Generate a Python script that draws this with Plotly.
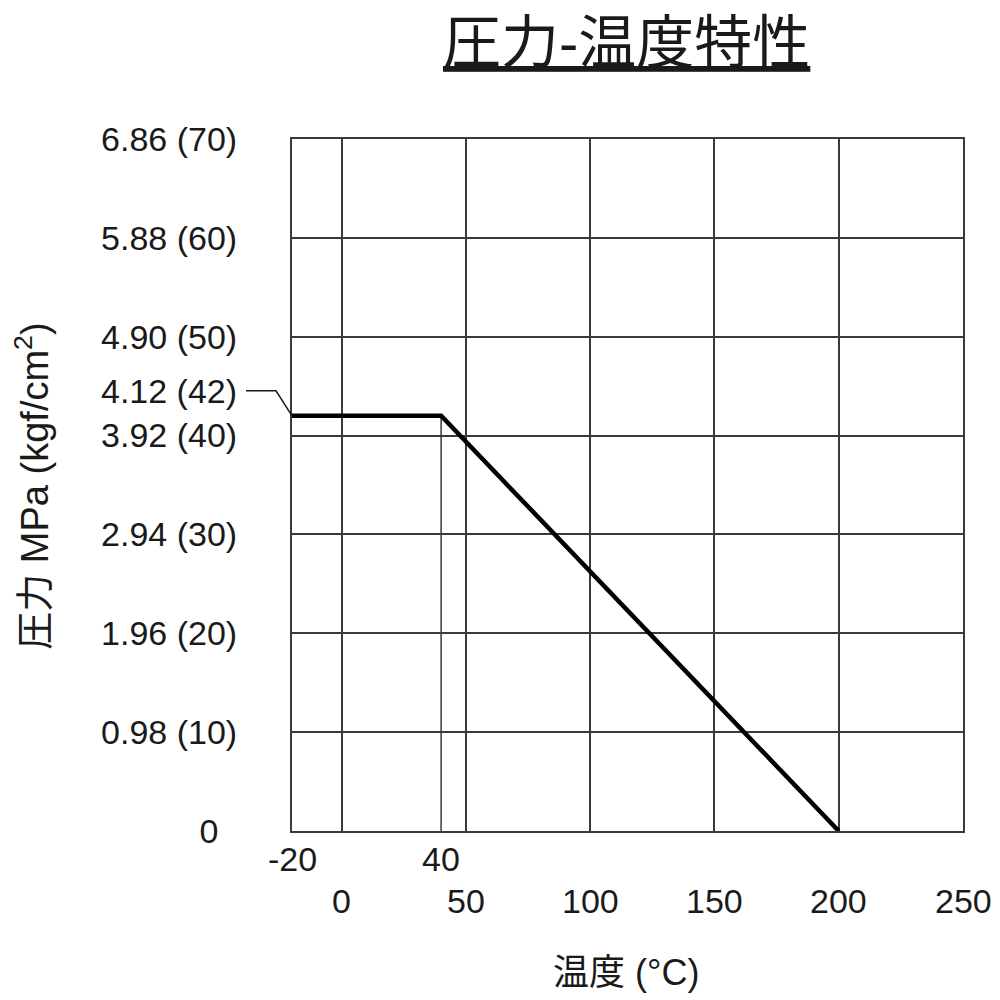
import plotly.graph_objects as go

# 温度 (°C) / 圧力 (kgf/cm2)
temp = [-20, 40, 200]
press = [42, 42, 0]
limit_temp = [40, 40]
limit_press = [42, 0]

x_top_ticks = [-20, 40]
x_ticks = [0, 50, 100, 150, 200, 250]

y_ticks = [0, 10, 20, 30, 40, 50, 60, 70]
y_labels = ["0\u00a0\u00a0", "0.98 (10)", "1.96 (20)", "2.94 (30)", "3.92 (40)",
            "4.90 (50)", "5.88 (60)", "6.86 (70)"]
mark_press = 42
mark_label = "4.12 (42)"

X_MIN, X_MAX = -20, 250
Y_MIN, Y_MAX = 0, 70

FONT = "Liberation Sans, Noto Sans CJK JP, sans-serif"
INK = "#1a1a1a"
GRID = "#3a3a3a"

fig = go.Figure()

fig.add_trace(go.Scatter(
    x=limit_temp, y=limit_press, mode="lines",
    line=dict(color=GRID, width=1.5), showlegend=False, hoverinfo="skip",
))
fig.add_trace(go.Scatter(
    x=temp, y=press, mode="lines",
    line=dict(color="black", width=4.5), showlegend=False,
))

# leader from the 42 label to the start of the curve
fig.add_shape(
    type="path", xref="paper", yref="paper",
    xsizemode="pixel", ysizemode="pixel",
    xanchor=0, yanchor=(mark_press - Y_MIN) / (Y_MAX - Y_MIN),
    path="M 0 0 L -16 25 L -46 25",
    line=dict(color=INK, width=1.5),
)
fig.add_annotation(
    x=temp[0], y=mark_press, xref="x", yref="y",
    text=mark_label, showarrow=False, xanchor="right", yanchor="middle",
    xshift=-53, yshift=25, font=dict(size=34, color=INK, family=FONT),
)

# x tick labels in two rows
for v in x_top_ticks:
    fig.add_annotation(
        x=v, y=0, xref="x", yref="paper", text=str(v), showarrow=False,
        xanchor="center", yanchor="middle", yshift=-28,
        font=dict(size=34, color=INK, family=FONT),
    )
for v in x_ticks:
    fig.add_annotation(
        x=v, y=0, xref="x", yref="paper", text=str(v), showarrow=False,
        xanchor="center", yanchor="middle", yshift=-70,
        font=dict(size=34, color=INK, family=FONT),
    )

fig.add_annotation(
    x=0.498, y=1.139, xref="paper", yref="paper",
    text="<u>圧力-温度特性</u>", showarrow=False, xanchor="center", yanchor="middle",
    font=dict(size=58, color=INK, family=FONT),
)
fig.add_annotation(
    x=0.498, y=-0.205, xref="paper", yref="paper",
    text="温度 (°C)", showarrow=False, xanchor="center", yanchor="middle",
    font=dict(size=36, color=INK, family=FONT),
)
fig.add_annotation(
    x=-0.387, y=0.498, xref="paper", yref="paper",
    text="圧力 MPa (kgf/cm<sup>2</sup>)", showarrow=False, textangle=-90,
    xanchor="center", yanchor="middle",
    font=dict(size=38, color=INK, family=FONT),
)

fig.update_layout(
    width=1000, height=1000,
    margin=dict(l=284, r=45, t=131, b=177),
    plot_bgcolor="white", paper_bgcolor="white",
    font=dict(family=FONT, size=34, color=INK),
    xaxis=dict(
        range=[X_MIN, X_MAX], tickvals=x_ticks, showticklabels=False,
        showgrid=True, gridcolor=GRID, gridwidth=1.5, zeroline=False, ticks="",
        showline=True, mirror=True, linecolor=GRID, linewidth=2,
        automargin=False,
    ),
    yaxis=dict(
        range=[Y_MIN, Y_MAX], tickvals=y_ticks, ticktext=y_labels,
        showgrid=True, gridcolor=GRID, gridwidth=1.5, zeroline=False, ticks="",
        showline=True, mirror=True, linecolor=GRID, linewidth=2,
        ticklabelstandoff=46, tickfont=dict(size=34), automargin=False,
    ),
)

fig.write_html("out.html")
